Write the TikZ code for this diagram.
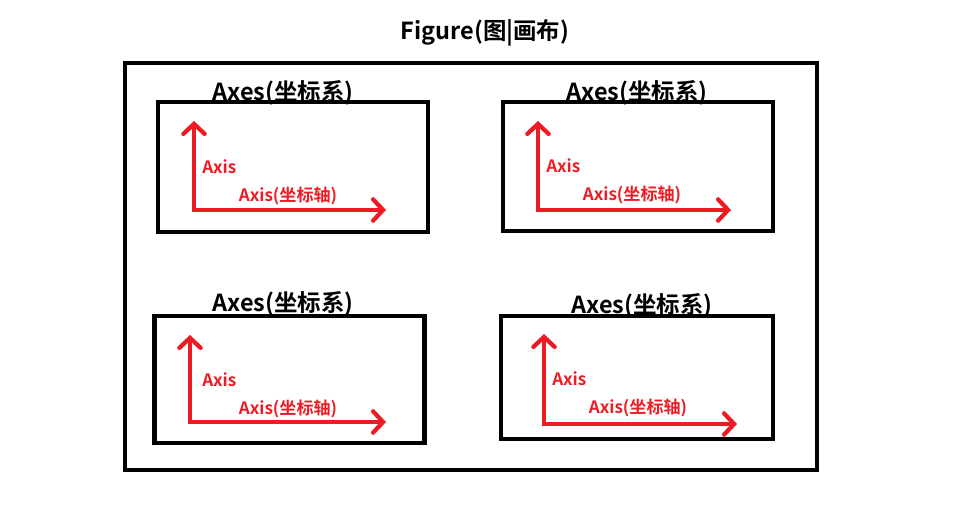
\documentclass[tikz,border=0pt]{standalone}
\usepackage{fontspec}
\setmainfont{Noto Sans CJK SC Bold}
\usetikzlibrary{arrows.meta}
\definecolor{axred}{HTML}{ED1C24}
\tikzset{
  frame/.style={draw=black, line width=3.2pt, inner sep=0pt},
  axbox/.style={draw=black, line width=3.2pt, inner sep=0pt, minimum width=202.5pt, minimum height=97pt},
  axlabel/.style={font=\fontsize{17.6}{17.6}\selectfont, text=black, inner sep=0pt},
  redlabel/.style={font=\fontsize{12.8}{12.8}\selectfont, text=axred, inner sep=0pt},
  axarrow/.style={draw=axred, line width=3.2pt, line cap=round, line join=miter,
    {Straight Barb[length=7.5pt, width=16pt, line cap=round]}-{Straight Barb[length=7.5pt, width=16pt, line cap=round]}}
}
\begin{document}
\begin{tikzpicture}[x=0.75pt, y=-0.75pt]
\useasboundingbox (0,0) rectangle (969,523);
\node[font=\fontsize{17.6}{17.6}\selectfont, inner sep=0pt] (title) at (485,33) {Figure(图|画布)};
\node[frame, minimum width=519pt, minimum height=305pt] (fig) at (471,266.5) {};
% box labels (drawn first so that the box borders overlap them)
\node[axlabel] (l1) at (283,93) {Axes(坐标系)};
\node[axlabel] (l2) at (637,93) {Axes(坐标系)};
\node[axlabel] (l3) at (283,304) {Axes(坐标系)};
\node[axlabel] (l4) at (642,306) {Axes(坐标系)};
% boxes
\node[axbox] (b1) at (293,167) {};
\node[axbox] (b2) at (638,166.5) {};
\node[axbox, minimum height=95pt] (b3) at (289.5,379.5) {};
\node[axbox, minimum width=204pt, minimum height=92pt] (b4) at (637,377.5) {};
% axes 1
\coordinate (o1) at (194,210); \coordinate (y1) at (194,121); \coordinate (x1) at (386,210);
\draw[axarrow] (y1) -- (o1) -- (x1);
\node[redlabel, anchor=west] (a1) at (202,167) {Axis};
\node[redlabel] (t1) at (288,196) {Axis(坐标轴)};
% axes 2
\coordinate (o2) at (538,210); \coordinate (y2) at (538,121); \coordinate (x2) at (731,210);
\draw[axarrow] (y2) -- (o2) -- (x2);
\node[redlabel, anchor=west] (a2) at (546,166) {Axis};
\node[redlabel] (t2) at (632,195) {Axis(坐标轴)};
% axes 3
\coordinate (o3) at (190,422); \coordinate (y3) at (190,335); \coordinate (x3) at (386,422);
\draw[axarrow] (y3) -- (o3) -- (x3);
\node[redlabel, anchor=west] (a3) at (202,380) {Axis};
\node[redlabel] (t3) at (288,409) {Axis(坐标轴)};
% axes 4
\coordinate (o4) at (544,424); \coordinate (y4) at (544,334); \coordinate (x4) at (737,424);
\draw[axarrow] (y4) -- (o4) -- (x4);
\node[redlabel, anchor=west] (a4) at (552,379) {Axis};
\node[redlabel] (t4) at (638,408) {Axis(坐标轴)};
\end{tikzpicture}
\end{document}
